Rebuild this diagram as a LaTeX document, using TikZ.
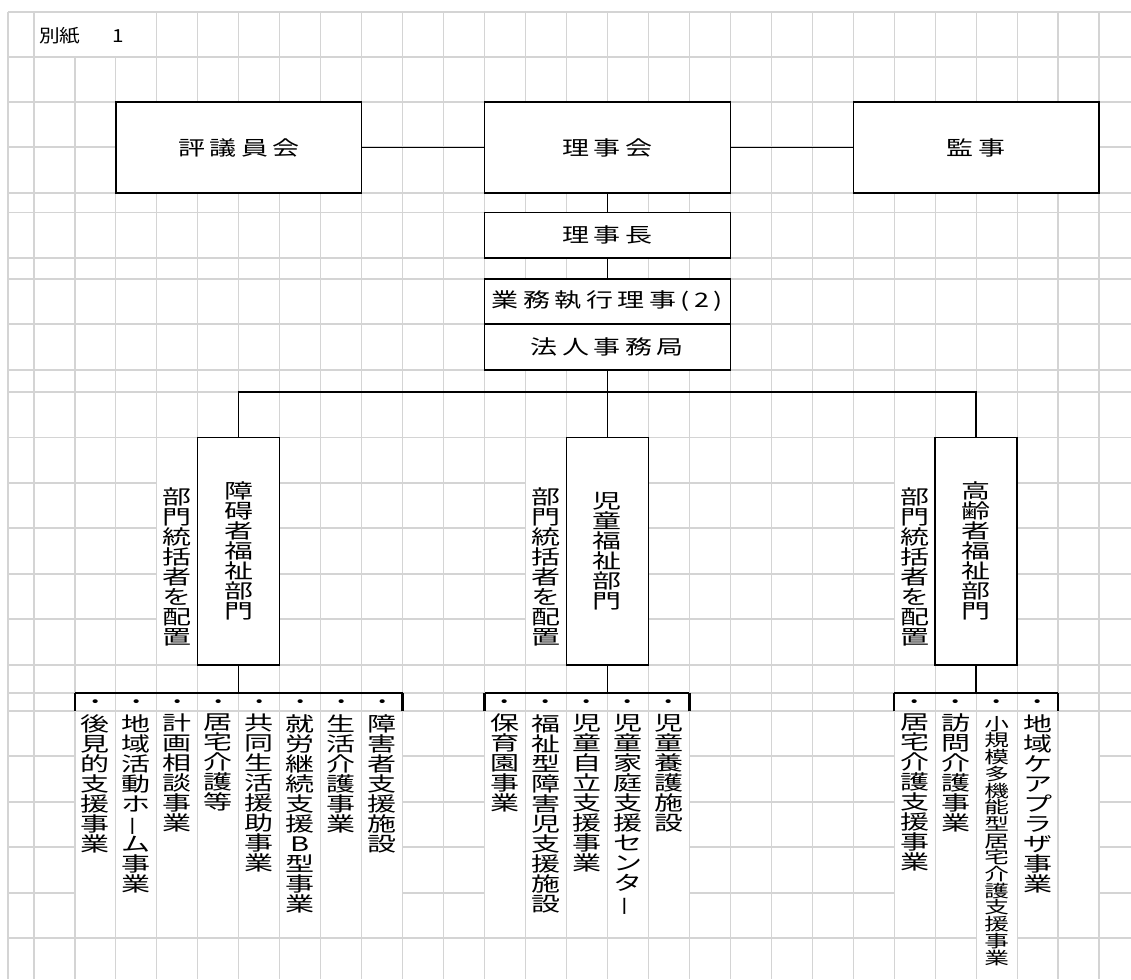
\documentclass[tikz,border=0pt]{standalone}
\usepackage{fontspec}
\usepackage{graphicx}
\newfontfamily\jp[FakeStretch=1.35]{Noto Sans CJK JP}
\newfontfamily\jpv[FakeStretch=1.45]{Noto Sans CJK JP}
\newfontfamily\jpn[FakeStretch=1.15]{Noto Sans CJK JP}
\definecolor{gridc}{RGB}{212,212,212}
\newdimen\vtpitch \vtpitch=20pt
\makeatletter
\newcommand\vt[1]{\vbox{\baselineskip=\vtpitch\lineskiplimit=-\maxdimen\lineskip=0pt\@tfor\vt@c:=#1\do{\hbox to 30pt{\hss\vt@c\hss}}}}
\makeatother
\newcommand\vbar{\rotatebox[origin=c]{90}{\scalebox{0.7}[1]{ー}}}
\newcommand\K{\kern4.5pt\relax}
\begin{document}
\begin{tikzpicture}[x=1pt,y=-1pt,
  gridline/.style={draw=gridc, line width=1.1pt},
  box/.style={draw=black, fill=white, line width=1.3pt, inner sep=0pt},
  conn/.style={draw=black, line width=1.3pt},
  tick/.style={draw=black, line width=2.4pt},
  htext/.style={font=\jp\fontsize{20}{20}\selectfont},
  vtext/.style={inner sep=0pt, font=\jpv\fontsize{20}{20}\selectfont},
  stext/.style={inner sep=0pt, font=\jpv\fontsize{17}{17}\selectfont},
  dotmark/.style={inner sep=0pt, font=\jp\fontsize{18}{18}\selectfont}]
\useasboundingbox (0,0) rectangle (1131,979);
\fill[white] (0,0) rectangle (1131,979);
% ---- grid ----
\draw[gridline] (8,12) -- (8,979);
\draw[gridline] (34,12) -- (34,979);
\foreach \k in {1,2}{\draw[gridline] ({34+40.96*\k},57) -- ({34+40.96*\k},979);}
\foreach \k in {3,...,26}{\draw[gridline] ({34+40.96*\k},12) -- ({34+40.96*\k},979);}
\foreach \y in {12,57,102,147,193,212.5,258,279,324,370,392,437.5,665,693,711}{\draw[gridline] (8,\y) -- (1131,\y);}
\foreach \y in {483,528,574,619}{
  \draw[gridline] (8,\y) -- ({34+40.96*3},\y);
  \draw[gridline] ({34+40.96*4},\y) -- ({34+40.96*12},\y);
  \draw[gridline] ({34+40.96*13},\y) -- ({34+40.96*21},\y);
  \draw[gridline] ({34+40.96*22},\y) -- (1131,\y);}
\foreach \y in {756,802,847,893}{
  \draw[gridline] (8,\y) -- ({34+40.96*1},\y);
  \draw[gridline] ({34+40.96*9},\y) -- ({34+40.96*11},\y);
  \draw[gridline] ({34+40.96*16},\y) -- ({34+40.96*21},\y);
  \draw[gridline] ({34+40.96*26},\y) -- (1131,\y);}
\draw[gridline] (8,938) -- ({34+40.96*23},938);
\draw[gridline] ({34+40.96*24},938) -- (1131,938);
% ---- title ----
\node[anchor=west, inner sep=0pt, font=\jpn\fontsize{18}{18}\selectfont] (title) at (39,35.5) {別紙\kern32pt 1};
% ---- top boxes ----
\node[box, htext, minimum width=245.76pt, minimum height=91pt] (hyogi) at (238.8,147.5) {評\K{}議\K{}員\K{}会};
\node[box, htext, minimum width=245.76pt, minimum height=91pt] (rijikai) at (607.44,147.5) {理\K{}事\K{}会};
\node[box, htext, minimum width=245.76pt, minimum height=91pt] (kanji) at (976.08,147.5) {監\K{}事};
\node[box, htext, minimum width=245.76pt, minimum height=45.5pt] (richo) at (607.44,235.25) {理\K{}事\K{}長};
\node[box, htext, minimum width=245.76pt, minimum height=45pt] (gyomu) at (607.44,301.5) {業\K{}務\K{}執\K{}行\K{}理\K{}事\K{}(\K{}2\K{})};
\node[box, htext, minimum width=245.76pt, minimum height=46pt] (hojin) at (607.44,347) {法\K{}人\K{}事\K{}務\K{}局};
\draw[conn] (hyogi.east) -- (rijikai.west);
\draw[conn] (rijikai.east) -- (kanji.west);
\draw[conn] (rijikai.south) -- (richo.north);
\draw[conn] (richo.south) -- (gyomu.north);
% ---- department boxes ----
\node[box, vtext, minimum width=81.92pt, minimum height=227.5pt] (bu1) at (238.8,551.25) {\vt{障碍者福祉部門}};
\node[box, vtext, minimum width=81.92pt, minimum height=227.5pt] (bu2) at (607.44,551.25) {\vt{児童福祉部門}};
\node[box, vtext, minimum width=81.92pt, minimum height=227.5pt] (bu3) at (976.08,551.25) {\vt{高齢者福祉部門}};
\node[vtext] (note1) at (177.36,567) {\vt{部門統括者を配置}};
\node[vtext] (note2) at (546,567) {\vt{部門統括者を配置}};
\node[vtext] (note3) at (914.64,567) {\vt{部門統括者を配置}};
\coordinate (hub) at (607.44,392);
\draw[conn] (hojin.south) -- (bu2.north);
\draw[conn] (bu1.north) |- (hub) -| (bu3.north);
% ---- brackets ----
\coordinate (b1l) at (74.96,711);  \coordinate (b1r) at (402.64,711);  \coordinate (b1t) at (238.8,693);
\coordinate (b2l) at (484.56,711); \coordinate (b2r) at (689.36,711);  \coordinate (b2t) at (607.44,693);
\coordinate (b3l) at (894.16,711); \coordinate (b3r) at (1058.0,711);  \coordinate (b3t) at (976.08,693);
\foreach \g in {1,2,3}{
  \draw[conn] (bu\g.south) -- (b\g t);
  \draw[conn, line width=1.1pt] (b\g l |- b\g t) -- (b\g r |- b\g t);
  \draw[tick] (b\g l) -- (b\g l |- b\g t);
  \draw[tick] (b\g r) -- (b\g r |- b\g t);}
% ---- dots ----
\foreach \cx [count=\i] in {95.44,136.4,177.36,218.32,259.28,300.24,341.2,382.16,505.04,546,586.96,627.92,668.88,914.64,955.6,996.56,1037.52}{
  \node[dotmark] (dot\i) at (\cx,704) {・};}
% ---- items ----
\node[vtext, anchor=north] (a1) at (95.44,714) {\vt{後見的支援事業}};
\node[vtext, anchor=north] (a2) at (136.4,714) {\vt{地域活動ホ{\vbar}ム事業}};
\node[vtext, anchor=north] (a3) at (177.36,714) {\vt{計画相談事業}};
\node[vtext, anchor=north] (a4) at (218.32,714) {\vt{居宅介護等}};
\node[vtext, anchor=north] (a5) at (259.28,714) {\vt{共同生活援助事業}};
\node[vtext, anchor=north] (a6) at (300.24,714) {\vt{就労継続支援B型事業}};
\node[vtext, anchor=north] (a7) at (341.2,714) {\vt{生活介護事業}};
\node[vtext, anchor=north] (a8) at (382.16,714) {\vt{障害者支援施設}};
\node[vtext, anchor=north] (c1) at (505.04,714) {\vt{保育園事業}};
\node[vtext, anchor=north] (c2) at (546,714) {\vt{福祉型障害児支援施設}};
\node[vtext, anchor=north] (c3) at (586.96,714) {\vt{児童自立支援事業}};
\node[vtext, anchor=north] (c4) at (627.92,714) {\vt{児童家庭支援センタ{\vbar}}};
\node[vtext, anchor=north] (c5) at (668.88,714) {\vt{児童養護施設}};
\node[vtext, anchor=north] (e1) at (914.64,714) {\vt{居宅介護支援事業}};
\node[vtext, anchor=north] (e2) at (955.6,714) {\vt{訪問介護事業}};
\node[stext, anchor=north] (e3) at (996.56,716) {\vtpitch=16.7pt\relax\vt{小規模多機能型居宅介護支援事業}};
\node[vtext, anchor=north] (e4) at (1037.52,714) {\vt{地域ケアプラザ事業}};
\end{tikzpicture}
\end{document}
